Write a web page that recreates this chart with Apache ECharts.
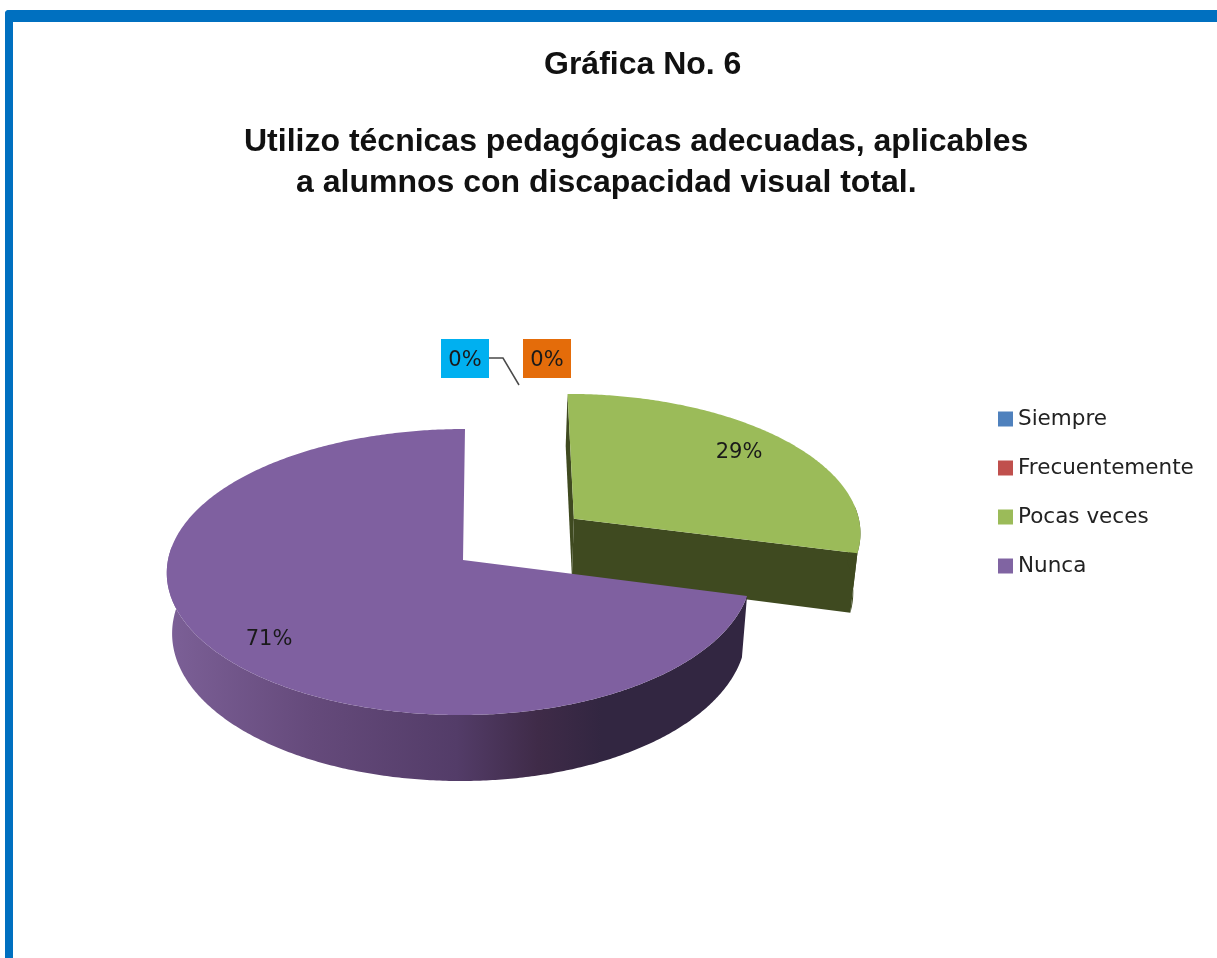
<!DOCTYPE html>
<html>
<head>
<meta charset="utf-8">
<title>Gráfica No. 6</title>
<script src="https://cdn.jsdelivr.net/npm/echarts@6/dist/echarts.min.js"></script>
<style>
  html, body { margin: 0; padding: 0; background: #fff; overflow: hidden; }
  #chart { width: 1217px; height: 958px; }
</style>
</head>
<body>
<div id="chart"></div>
<script>
  // data
  var categories = ['Siempre', 'Frecuentemente', 'Pocas veces', 'Nunca'];
  var values = [0, 0, 29, 71];

  // look of each slice, same order as categories
  var topColors = ['#4f81bd', '#c0504d', '#9bbb59', '#7f60a0'];
  var explode = [0, 0, 0.485, 0];
  var squeeze = [1, 1, 0.99, 0.975];
  var labelBoxes = ['#00b0f0', '#e46c0a', null, null];
  var labelPos = [[465, 361], [547, 361], [739, 453], [269, 640]];

  // fake 3d disc: perspective projection of a unit circle
  var disc = { cx: 463, cy: 560, rx: 295, ry: 142, persp: 0.084, skew: 2, depth: 60, depthV: 6, shrink: 0.018 };
  var total = values.reduce(function (a, b) { return a + b; }, 0);

  function project(u, v, h) {
    var s = 1 / (1 - disc.persp * v);
    return [
      disc.cx + disc.rx * u * s * (1 - disc.shrink * h) - disc.skew * v,
      disc.cy + disc.ry * v * s + h * (disc.depth + disc.depthV * v)
    ];
  }

  function sideFill(index) {
    if (index === 3) {
      return new echarts.graphic.LinearGradient(0, 0, 1, 0, [
        { offset: 0, color: '#7c6097' },
        { offset: 0.25, color: '#654a7b' },
        { offset: 0.5, color: '#533c68' },
        { offset: 0.64, color: '#3f2b48' },
        { offset: 0.75, color: '#322641' },
        { offset: 1, color: '#322641' }
      ]);
    }
    return index === 2 ? '#3f4a20' : '#333';
  }

  function renderSlice(params, api) {
    var i = params.seriesIndex;
    var before = 0;
    for (var k = 0; k < i; k++) before += values[k];
    var from = before / total * Math.PI * 2;
    var to = (before + api.value(0)) / total * Math.PI * 2;
    var mid = (from + to) / 2;
    var ox = Math.sin(mid) * explode[i];
    var oy = -Math.cos(mid) * explode[i];
    var children = [];

    if (to > from) {
      var topArc = [], wallTop = [], wallBottom = [];
      var steps = Math.ceil((to - from) / 0.01);
      for (var n = 0; n <= steps; n++) {
        var t = from + (to - from) * n / steps;
        var sx = Math.sin(t);
        var u = ox + (sx > 0 ? sx * squeeze[i] : sx), v = oy - Math.cos(t);
        topArc.push(project(u, v, 0));
        // the back of the rim is hidden anyway
        if (Math.cos(t) < 0.1) {
          wallTop.push(project(u, v, 0));
          wallBottom.push(project(u, v, 1));
        }
      }
      var apexTop = project(ox, oy, 0), apexBottom = project(ox, oy, 1);
      var last = topArc.length - 1;
      var side = sideFill(i);
      // only the exploded slice shows its cut faces
      if (explode[i] > 0) {
        var u0 = ox + Math.sin(from), v0 = oy - Math.cos(from);
        var u1 = ox + Math.sin(to) * squeeze[i], v1 = oy - Math.cos(to);
        children.push({ type: 'polygon', shape: { points: [apexTop, topArc[0], project(u0, v0, 1), apexBottom] }, style: { fill: side } });
        children.push({ type: 'polygon', shape: { points: [apexTop, topArc[last], project(u1, v1, 1), apexBottom] }, style: { fill: side } });
      }
      children.push({ type: 'polygon', shape: { points: wallTop.concat(wallBottom.reverse()) }, style: { fill: side } });
      children.push({ type: 'polygon', shape: { points: [apexTop].concat(topArc) }, style: { fill: topColors[i] } });
    }

    var pos = labelPos[i];
    if (labelBoxes[i]) {
      children.push({ type: 'rect', shape: { x: pos[0] - 24, y: pos[1] - 22, width: 48, height: 39 }, style: { fill: labelBoxes[i] } });
    }
    if (i === 0) {
      children.push({ type: 'polyline', shape: { points: [[489, 358], [503, 358], [519, 385]] }, style: { stroke: '#4a4a4a', lineWidth: 1.5, fill: 'none' } });
    }
    children.push({
      type: 'text',
      style: {
        x: pos[0], y: pos[1],
        text: Math.round(api.value(0) / total * 100) + '%',
        align: 'center', verticalAlign: 'middle',
        font: '21px "DejaVu Sans"', fill: '#1a1a1a'
      }
    });
    return { type: 'group', children: children };
  }

  var titleFont = { fontFamily: 'Liberation Sans', fontWeight: 'bold', fontSize: 32, color: '#111' };
  var chart = echarts.init(document.getElementById('chart'), null, { renderer: 'canvas' });
  chart.setOption({
    animation: false,
    backgroundColor: '#fff',
    title: [
      { text: 'Gráfica No. 6', left: 539, top: 44, textStyle: titleFont },
      { text: 'Utilizo técnicas pedagógicas adecuadas, aplicables', left: 239, top: 121, textStyle: titleFont },
      { text: 'a alumnos con discapacidad visual total.', left: 291, top: 162, textStyle: titleFont }
    ],
    legend: {
      orient: 'vertical',
      left: 993,
      top: 403,
      icon: 'rect',
      itemWidth: 15,
      itemHeight: 15,
      itemGap: 27,
      selectedMode: false,
      data: categories,
      textStyle: { fontFamily: 'DejaVu Sans', fontSize: 21.5, color: '#222' }
    },
    graphic: [
      { type: 'rect', shape: { x: 5, y: 10, width: 1212, height: 12, r: [4, 0, 0, 0] }, style: { fill: '#0070c0' } },
      { type: 'rect', shape: { x: 5, y: 10, width: 8, height: 948, r: [4, 0, 0, 0] }, style: { fill: '#0070c0' } }
    ],
    series: categories.map(function (name, i) {
      return {
        type: 'custom',
        name: name,
        coordinateSystem: 'none',
        silent: true,
        itemStyle: { color: i === 3 ? '#8064a2' : topColors[i] },
        renderItem: renderSlice,
        data: [values[i]]
      };
    })
  });
</script>
</body>
</html>
